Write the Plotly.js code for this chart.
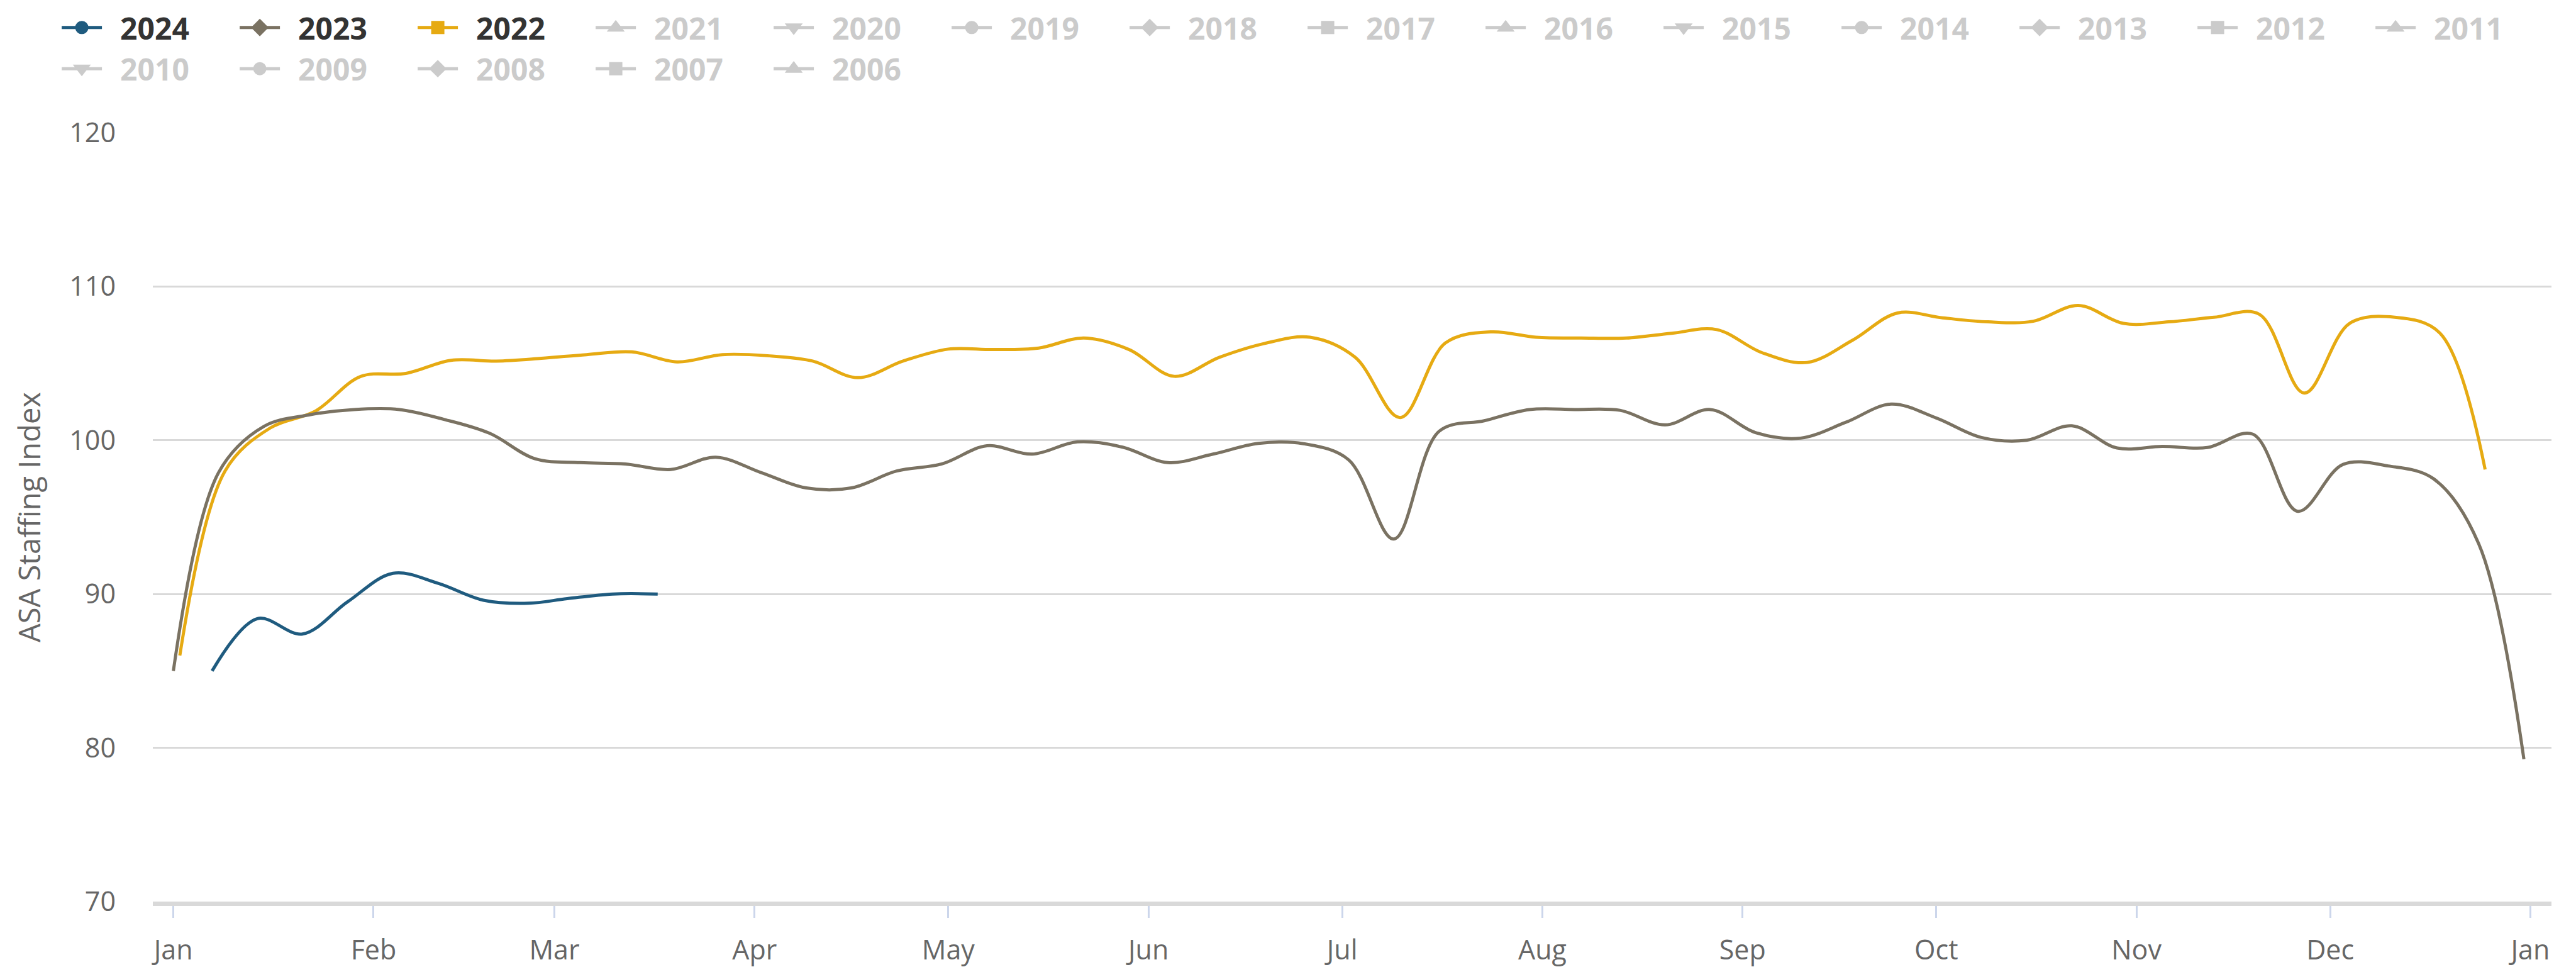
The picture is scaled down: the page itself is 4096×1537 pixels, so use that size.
<!DOCTYPE html>
<html>
<head>
<meta charset="utf-8">
<script src="https://cdn.plot.ly/plotly-3.0.1.min.js"></script>
<style>
html,body{margin:0;padding:0;background:#ffffff;}
#chart{width:4096px;height:1537px;}
</style>
</head>
<body>
<div id="chart"></div>
<script>
// ---- Data (weekly ASA Staffing Index, week-ending dates) ----
const weeks2024 = ["2024-01-07","2024-01-14","2024-01-21","2024-01-28","2024-02-04","2024-02-11","2024-02-18","2024-02-25","2024-03-03","2024-03-10","2024-03-17"];
const index2024 = [85.0, 88.4, 87.4, 89.5, 91.35, 90.7, 89.6, 89.4, 89.7, 90.0, 90.0];

const weeks2023 = ["2023-01-01","2023-01-08","2023-01-15","2023-01-22","2023-01-29","2023-02-05","2023-02-12","2023-02-19","2023-02-26","2023-03-05","2023-03-12","2023-03-19","2023-03-26","2023-04-02","2023-04-09","2023-04-16","2023-04-23","2023-04-30","2023-05-07","2023-05-14","2023-05-21","2023-05-28","2023-06-04","2023-06-11","2023-06-18","2023-06-25","2023-07-02","2023-07-09","2023-07-16","2023-07-23","2023-07-30","2023-08-06","2023-08-13","2023-08-20","2023-08-27","2023-09-03","2023-09-10","2023-09-17","2023-09-24","2023-10-01","2023-10-08","2023-10-15","2023-10-22","2023-10-29","2023-11-05","2023-11-12","2023-11-19","2023-11-26","2023-12-03","2023-12-10","2023-12-17","2023-12-24","2023-12-31"];
const index2023 = [85.0, 97.9, 100.9, 101.65, 102.0, 102.0, 101.35, 100.45, 98.8, 98.55, 98.46, 98.1, 98.9, 97.9, 96.9, 96.9, 98.0, 98.46, 99.64, 99.1, 99.9, 99.55, 98.55, 99.1, 99.8, 99.78, 98.73, 93.58, 100.58, 101.27, 102.0, 102.0, 101.95, 101.0, 102.0, 100.5, 100.14, 101.17, 102.35, 101.45, 100.18, 100.0, 100.94, 99.5, 99.6, 99.53, 100.4, 95.38, 98.43, 98.33, 97.5, 93.27, 79.26];

const weeks2022 = ["2022-01-02","2022-01-09","2022-01-16","2022-01-23","2022-01-30","2022-02-06","2022-02-13","2022-02-20","2022-02-27","2022-03-06","2022-03-13","2022-03-20","2022-03-27","2022-04-03","2022-04-10","2022-04-17","2022-04-24","2022-05-01","2022-05-08","2022-05-15","2022-05-22","2022-05-29","2022-06-05","2022-06-12","2022-06-19","2022-06-26","2022-07-03","2022-07-10","2022-07-17","2022-07-24","2022-07-31","2022-08-07","2022-08-14","2022-08-21","2022-08-28","2022-09-04","2022-09-11","2022-09-18","2022-09-25","2022-10-02","2022-10-09","2022-10-16","2022-10-23","2022-10-30","2022-11-06","2022-11-13","2022-11-20","2022-11-27","2022-12-04","2022-12-11","2022-12-18","2022-12-25"];
const index2022 = [86.0, 98.0, 100.8, 101.9, 104.15, 104.35, 105.2, 105.15, 105.33, 105.57, 105.75, 105.1, 105.57, 105.5, 105.15, 104.07, 105.15, 105.93, 105.9, 106.0, 106.65, 105.9, 104.16, 105.4, 106.3, 106.7, 105.4, 101.48, 106.33, 107.05, 106.7, 106.65, 106.65, 106.96, 107.2, 105.7, 105.06, 106.5, 108.28, 107.96, 107.7, 107.74, 108.77, 107.6, 107.7, 108.0, 108.2, 103.07, 107.6, 108.0, 106.97, 98.1];

const shownYears = ["2024", "2023", "2022"];
const hiddenYears = ["2021","2020","2019","2018","2017","2016","2015","2014","2013","2012","2011","2010","2009","2008","2007","2006"];
const monthTickLabelFormat = "%b";
const yTickValues = [70, 80, 90, 100, 110, 120];
const yAxisTitle = "ASA Staffing Index";

// ---- Styling ----
const colors = {"2024": "#1f5b7f", "2023": "#7a7262", "2022": "#e6aa12"};
const symbolCycle = ["circle", "diamond", "square", "triangle-up", "triangle-down"];
const FONT = '"Open Sans", "Liberation Sans", sans-serif';
const LEGEND_GAP = "\u2002"; // small gap between legend symbol and label

// All years share one Jan–Dec axis: place every week on the same base year
function onBaseYear(d) { return "2023" + d.slice(4); }

const seriesData = {
  "2024": {x: weeks2024, y: index2024},
  "2023": {x: weeks2023, y: index2023},
  "2022": {x: weeks2022, y: index2022}
};

const traces = [];
// data lines (drawn 2022 first so newer years sit on top)
["2022", "2023", "2024"].forEach(function (yr) {
  traces.push({
    type: "scatter",
    mode: "lines",
    x: seriesData[yr].x.map(onBaseYear),
    y: seriesData[yr].y,
    name: yr,
    legendgroup: yr,
    showlegend: false,
    line: {color: colors[yr], width: 5, shape: "spline", smoothing: 1},
    hovertemplate: yr + " %{x|%b %d}: %{y:.1f}<extra></extra>"
  });
});

// legend entries in the original order
const allYears = shownYears.concat(hiddenYears);
allYears.forEach(function (yr, i) {
  const sym = symbolCycle[i % symbolCycle.length];
  const hidden = hiddenYears.indexOf(yr) >= 0;
  const col = hidden ? "#999999" : colors[yr];
  traces.push({
    type: "scatter",
    mode: "lines+markers",
    x: [null], y: [null],
    name: LEGEND_GAP + (hidden ? '<span style="color:#999999">' + yr + '</span>' : yr),
    legendgroup: yr,
    showlegend: true,
    visible: hidden ? "legendonly" : true,
    line: {color: col, width: 5},
    marker: {symbol: sym, size: 16, color: col, line: {width: 5, color: col}},
    hoverinfo: "skip"
  });
});

const layout = {
  width: 4096,
  height: 1537,
  margin: {l: 243, r: 39, t: 211, b: 104, autoexpand: false},
  paper_bgcolor: "#ffffff",
  plot_bgcolor: "#ffffff",
  font: {family: FONT, color: "#666666", size: 43},
  showlegend: true,
  xaxis: {
    type: "date",
    range: ["2022-12-28 19:40", "2024-01-04 06:30"],
    tick0: "2023-01-01",
    dtick: "M1",
    tickformat: monthTickLabelFormat,
    ticks: "outside",
    ticklen: 19,
    tickwidth: 3,
    tickcolor: "#ccd6eb",
    showgrid: false,
    zeroline: false,
    showline: true,
    linecolor: "#d9d9d9",
    linewidth: 7,
    tickfont: {family: FONT, size: 43, color: "#666666"},
    ticklabelstandoff: 14,
    fixedrange: true
  },
  yaxis: {
    range: [70, 120],
    tickmode: "array",
    tickvals: yTickValues,
    showgrid: true,
    gridcolor: "#d9d9d9",
    gridwidth: 3,
    zeroline: false,
    showline: false,
    ticks: "",
    tickfont: {family: FONT, size: 43, color: "#666666"},
    ticklabelstandoff: 58,
    title: {text: yAxisTitle, font: {family: FONT, size: 47, color: "#666666"}, standoff: 30},
    fixedrange: true
  },
  legend: {
    orientation: "h",
    xref: "paper",
    yref: "paper",
    x: -0.0393,
    y: 1.1677,
    xanchor: "left",
    yanchor: "top",
    traceorder: "normal",
    itemwidth: 64,
    entrywidth: 204,
    entrywidthmode: "pixels",
    bgcolor: "rgba(0,0,0,0)",
    font: {family: FONT, size: 48, color: "#333333", weight: "bold"}
  }
};

Plotly.newPlot("chart", traces, layout, {displayModeBar: false});
</script>
</body>
</html>
